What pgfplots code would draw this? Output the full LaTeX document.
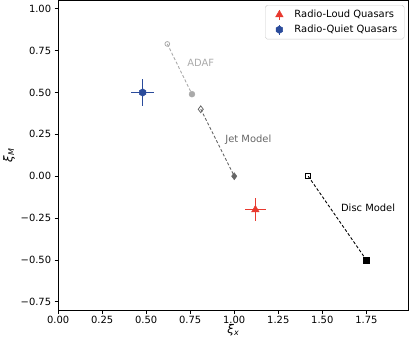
\documentclass[border=0pt]{standalone}
\usepackage{fontspec}
\setmainfont{DejaVu Sans}
\usepackage{pgfplots}
\pgfplotsset{compat=1.18}
\usetikzlibrary{plotmarks}

\definecolor{rlred}{HTML}{E8392F}
\definecolor{rqblue}{HTML}{2A4B9B}
\definecolor{adafgray}{HTML}{AAAAAA}
\definecolor{jetgray}{HTML}{666666}

% filled hexagon, like matplotlib's 'h'
\pgfdeclareplotmark{hexagon*}{%
  \pgfpathmoveto{\pgfqpointpolar{90}{\pgfplotmarksize}}%
  \pgfpathlineto{\pgfqpointpolar{150}{\pgfplotmarksize}}%
  \pgfpathlineto{\pgfqpointpolar{210}{\pgfplotmarksize}}%
  \pgfpathlineto{\pgfqpointpolar{270}{\pgfplotmarksize}}%
  \pgfpathlineto{\pgfqpointpolar{330}{\pgfplotmarksize}}%
  \pgfpathlineto{\pgfqpointpolar{30}{\pgfplotmarksize}}%
  \pgfpathclose
  \pgfusepathqfillstroke}

\begin{document}
\begin{tikzpicture}
\begin{axis}[
  scale only axis,
  width=353pt, height=312pt,
  xmin=0, xmax=1.99,
  ymin=-0.80, ymax=1.05,
  xtick={0,0.25,0.5,0.75,1,1.25,1.5,1.75},
  xticklabels={0.00,0.25,0.50,0.75,1.00,1.25,1.50,1.75},
  ytick={-0.75,-0.5,-0.25,0,0.25,0.5,0.75,1},
  yticklabels={−0.75,−0.50,−0.25,0.00,0.25,0.50,0.75,1.00},
  tick pos=left,
  tick align=outside,
  major tick length=3.5pt,
  tick style={black, line width=0.8pt},
  axis line style={line width=0.8pt},
  tick label style={font=\fontsize{10}{12}\selectfont},
  xticklabel style={yshift=1pt},
  label style={font=\fontsize{12}{14}\selectfont},
  xlabel={\textit{ξ}\textsubscript{\textit{x}}},
  ylabel={\textit{ξ}\textsubscript{\textit{M}}},
  xlabel style={yshift=6pt},
  ylabel style={yshift=-1pt},
  legend style={at={(0.988,0.985)}, anchor=north east,
    draw=black!20, rounded corners=2pt,
    font=\fontsize{10}{12}\selectfont,
    row sep=2pt, inner xsep=5pt, inner ysep=3pt},
  legend cell align=left,
  legend image code/.code={%
    \path (0pt,0pt) (22pt,0pt);
    \draw[line width=1pt, solid] (9pt,-5pt) -- (9pt,5pt);
    \draw[mark repeat=2, mark phase=2] plot coordinates {(0pt,0pt)(9pt,0pt)(22pt,0pt)};},
]
% ADAF
\addplot[adafgray, densely dashed, line width=0.9pt, forget plot] coordinates {(0.62,0.79)(0.76,0.49)};
\addplot[adafgray, only marks, mark=o, mark size=2.4pt, mark options={solid, fill=white, line width=0.8pt}, forget plot] coordinates {(0.62,0.79)};
\addplot[adafgray, only marks, mark=*, mark size=3pt, forget plot] coordinates {(0.76,0.49)};
% Jet model
\addplot[jetgray, densely dashed, line width=0.9pt, forget plot] coordinates {(0.81,0.40)(1.00,0.00)};
\addplot[jetgray, only marks, mark=diamond, mark size=3.4pt, mark options={solid, fill=white, line width=0.8pt}, forget plot] coordinates {(0.81,0.40)};
\addplot[jetgray, only marks, mark=diamond*, mark size=3.6pt, forget plot] coordinates {(1.00,0.00)};
% Disc model
\addplot[black, densely dashed, line width=0.9pt, forget plot] coordinates {(1.42,0.00)(1.75,-0.50)};
\addplot[black, only marks, mark=square, mark size=2.4pt, mark options={solid, fill=white, line width=0.8pt}, forget plot] coordinates {(1.42,0.00)};
\addplot[black, only marks, mark=square*, mark size=2.8pt, forget plot] coordinates {(1.75,-0.50)};
% quasars
\addplot[rlred, only marks, mark=triangle*, mark size=4.4pt,
  error bars/.cd, x dir=both, x explicit, y dir=both, y explicit,
  error mark=none, error bar style={line width=1pt, rlred}]
  coordinates {(1.12,-0.20) +- (0.06,0.07)};
\addlegendentry{Radio-Loud Quasars}
\addplot[rqblue, only marks, mark=hexagon*, mark size=3.8pt,
  error bars/.cd, x dir=both, x explicit, y dir=both, y explicit,
  error mark=none, error bar style={line width=1pt, rqblue}]
  coordinates {(0.48,0.50) +- (0.065,0.08)};
\addlegendentry{Radio-Quiet Quasars}
% labels
\node[adafgray, font=\fontsize{10}{12}\selectfont] at (axis cs:0.81,0.675) {ADAF};
\node[jetgray, font=\fontsize{10}{12}\selectfont] at (axis cs:1.08,0.22) {Jet Model};
\node[black, font=\fontsize{10}{12}\selectfont] at (axis cs:1.76,-0.19) {Disc Model};
\end{axis}
\end{tikzpicture}
\end{document}
